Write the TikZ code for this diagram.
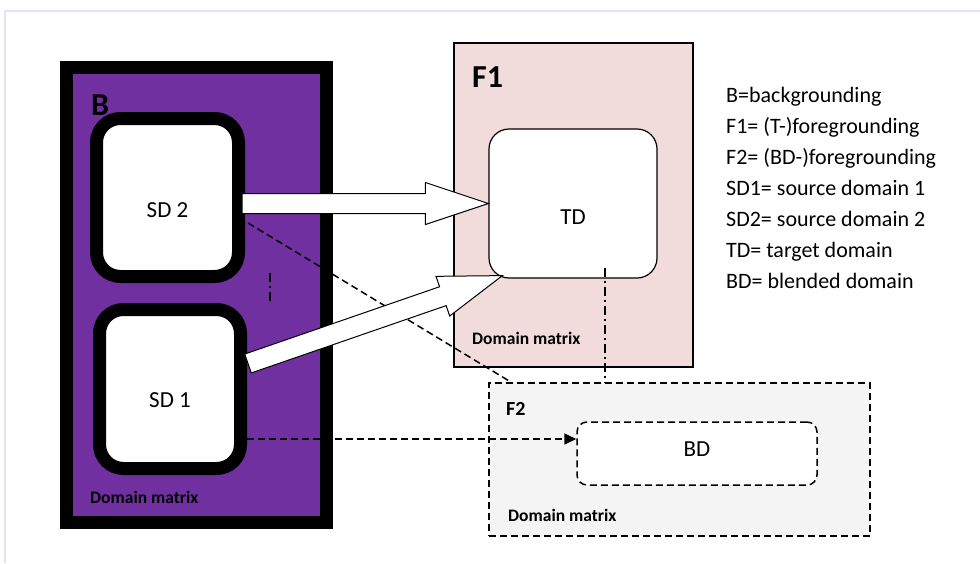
\documentclass[tikz,border=0pt]{standalone}
\usepackage{fontspec}
\setmainfont{Carlito}
\usetikzlibrary{positioning, arrows.meta, calc}

\definecolor{bgpurple}{HTML}{7030A0}
\definecolor{fgpink}{HTML}{F2DCDB}
\definecolor{fggray}{HTML}{F4F4F4}
\definecolor{framelav}{HTML}{E4E2F8}

% wide white arrow from #1 to #2
\newcommand{\fatarrow}[2]{%
  \draw[fat] ($(#1)!10pt!90:(#2)$)
    -- ($(#2)!63pt!(#1)!10pt!90:(#2)$)
    -- ($(#2)!63pt!(#1)!21pt!90:(#2)$)
    -- (#2)
    -- ($(#2)!63pt!(#1)!21pt!-90:(#2)$)
    -- ($(#2)!63pt!(#1)!10pt!-90:(#2)$)
    -- ($(#1)!10pt!-90:(#2)$) -- cycle;}

\begin{document}
\begin{tikzpicture}[
        x=1pt, y=-1pt,
        heavy/.style={draw=black, line width=13pt, inner sep=0pt},
        sdbox/.style={heavy, fill=white, rounded corners=24pt},
        matrixbox/.style={draw=black, line width=1.2pt, inner sep=0pt},
        dlabel/.style={font=\fontsize{23}{28}\selectfont},
        title/.style={font=\bfseries\fontsize{32}{36}\selectfont, anchor=base west, inner sep=0pt},
        dmlabel/.style={font=\bfseries\fontsize{17.5}{20}\selectfont, anchor=base west, inner sep=0pt},
        dashline/.style={draw, line width=1.5pt, dash pattern=on 7pt off 4pt},
        dashdotline/.style={draw, line width=1.2pt, dash pattern=on 9pt off 4pt on 2pt off 4pt},
        fat/.style={draw=black, line width=1pt, fill=white, line join=miter}
    ]
    \useasboundingbox (0,0) rectangle (980,563);
    \draw[framelav, line width=2pt] (5,563) -- (5,11) -- (980,11);

    % B
    \node (bframe) [heavy, fill=bgpurple, minimum width=260pt, minimum height=455pt] at (196.5,295) {};
    \node (sd2) [sdbox, minimum width=142pt, minimum height=158pt, label={[dlabel, yshift=-13pt]center:SD 2}] at (167.5,197.5) {};
    \node (sd1) [sdbox, minimum width=141pt, minimum height=159pt, label={[dlabel, yshift=-11pt]center:SD 1}] at (170,389) {};
    \node (btitle) [title] at (91,115) {B};
    \node (bmatrix) [dmlabel] at (90,503) {Domain matrix};
    \draw[dashdotline] (270,273) -- (270,304);

    % F1
    \node (f1) [matrixbox, fill=fgpink, minimum width=239pt, minimum height=324pt] at (573.5,205) {};
    \node (td) [matrixbox, fill=white, rounded corners=20pt, minimum width=168pt, minimum height=149pt, label={[dlabel, yshift=-14pt]center:TD}] at (573,203.5) {};
    \node (f1title) [title] at (472,87) {F1};
    \node (f1matrix) [dmlabel] at (472,344) {Domain matrix};

    % F2
    \node (f2) [matrixbox, dashline, fill=fggray, minimum width=381pt, minimum height=153pt] at (679.5,459.5) {};
    \node (bd) [matrixbox, dashline, fill=white, rounded corners=10pt, minimum width=240pt, minimum height=63pt, label={[dlabel, yshift=4pt]center:BD}] at (697,453.5) {};
    \node (f2title) [title, font=\bfseries\fontsize{20}{24}\selectfont] at (506,415) {F2};
    \node (f2matrix) [dmlabel] at (508,521) {Domain matrix};

    % legend
    \node (legend) [anchor=north west, inner sep=0pt, align=left, font=\fontsize{22}{31}\selectfont] at (726,87)
        {B=backgrounding\\F1= (T-)foregrounding\\F2= (BD-)foregrounding\\SD1= source domain 1\\SD2= source domain 2\\TD= target domain\\BD= blended domain};

    % connections
    \coordinate (tdd) at ([xshift=32pt,yshift=11pt]td.south);
    \draw[dashdotline] (tdd) -- (tdd |- f2.north);
    \draw[dashline] ([xshift=3pt,yshift=-25.5pt]sd2.east) -- ([xshift=23pt]f2.north west);
    \coordinate (d1) at ([yshift=-50pt]sd1.east);
    \draw[dashline, -{Triangle[length=12pt,width=11pt]}] (d1) -- (d1 -| bd.west);

    \coordinate (a2tail) at ([xshift=-3pt,yshift=-6pt]sd2.east);
    \coordinate (a1tail) at ([xshift=1pt,yshift=25.5pt]sd1.east);
    \coordinate (a1tip) at ([xshift=14pt,yshift=3pt]td.south west);
    \fatarrow{a2tail}{td.west}
    \fatarrow{a1tail}{a1tip}
\end{tikzpicture}
\end{document}
